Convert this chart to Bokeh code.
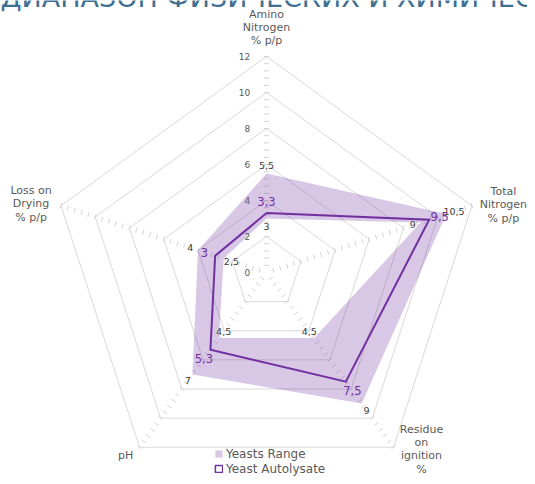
import numpy as np
from bokeh.plotting import figure
from bokeh.models import Range1d, Legend, LegendItem
from bokeh.core.properties import value
from bokeh.embed import file_html
from bokeh.resources import INLINE

# ---------------- data ----------------
title_text = "ДИАПАЗОН ФИЗИЧЕСКИХ И ХИМИЧЕСКИХ ХАРАКТЕРИСТИК"
categories = ["Amino\nNitrogen\n% p/p", "Total\nNitrogen\n% p/p",
              "Residue\non\nignition\n%", "pH", "Loss on\nDrying\n% p/p"]
range_low = [3, 9, 4.5, 4.5, 2.5]
range_high = [5.5, 10.5, 9, 7, 4]
autolysate = [3.3, 9.5, 7.5, 5.3, 3]
tick_values = [0, 2, 4, 6, 8, 10, 12]
series_names = ["Yeasts Range", "Yeast Autolysate"]

# ---------------- styling / geometry ----------------
PX = 18.0                      # pixels per unit
CX, CY = 266, 272              # centre in figure pixels
W, H = 527, 476
FONT = "DejaVu Sans"
PURPLE = "#7030a0"
GRID = "#d9d9d9"
TXT = "#595959"

angles = np.deg2rad([90, 18, -54, -126, 162])
cosa, sina = np.cos(angles), np.sin(angles)

def fmt(v):
    return f"{v:g}".replace(".", ",")

p = figure(width=W, height=H, output_backend="svg", toolbar_location=None,
           x_range=Range1d((0 - CX) / PX, (W - CX) / PX),
           y_range=Range1d((CY - H) / PX, CY / PX),
           min_border=0, min_border_left=0, min_border_right=0,
           min_border_top=0, min_border_bottom=0)
p.axis.visible = False
p.grid.visible = False
p.outline_line_color = None
p.background_fill_color = "white"
p.border_fill_color = "white"

# gridline pentagons
gx, gy = [], []
for r in tick_values[1:]:
    gx.append(list(r * np.append(cosa, cosa[0])))
    gy.append(list(r * np.append(sina, sina[0])))
p.multi_line(gx, gy, line_color=GRID, line_width=1)

# minor ticks along each spoke
half = 2.5 / PX
x0s, y0s, x1s, y1s = [], [], [], []
for c, s in zip(cosa, sina):
    for t in np.arange(0.4, 12.001, 0.4):
        px_, py_ = t * c, t * s
        x0s.append(px_ - s * half); y0s.append(py_ + c * half)
        x1s.append(px_ + s * half); y1s.append(py_ - c * half)
p.segment(x0s, y0s, x1s, y1s, line_color="#d3d3d3", line_width=1)

# range band (polygon with hole)
hi = np.array(range_high); lo = np.array(range_low)
outer_x = list(hi * cosa); outer_y = list(hi * sina)
inner_x = list(lo * cosa); inner_y = list(lo * sina)
band = p.multi_polygons(xs=[[[outer_x, inner_x]]], ys=[[[outer_y, inner_y]]],
                        fill_color=PURPLE, fill_alpha=0.27, line_color=None)

# autolysate line
av = np.array(autolysate)
ax_ = list(np.append(av * cosa, av[0] * cosa[0]))
ay_ = list(np.append(av * sina, av[0] * sina[0]))
p.line(ax_, ay_, line_color=PURPLE, line_width=2, line_join="miter")

# value-axis tick labels (on first spoke)
p.text(x=[-0.9] * len(tick_values), y=tick_values, text=[str(t) for t in tick_values],
       text_font=value(FONT), text_font_size="9px", text_color=TXT,
       text_align="right", text_baseline="middle")

# range labels
d = 0.45
p.text(x=list((hi + d) * cosa), y=list((hi + d) * sina), text=[fmt(v) for v in range_high],
       text_font=value(FONT), text_font_size="9.5px", text_color="#404040",
       text_align="center", text_baseline="middle")
p.text(x=list((lo - d) * cosa), y=list((lo - d) * sina), text=[fmt(v) for v in range_low],
       text_font=value(FONT), text_font_size="9.5px", text_color="#404040",
       text_align="center", text_baseline="middle")

# autolysate labels
da = 0.62
p.text(x=list((av + da) * cosa), y=list((av + da) * sina), text=[fmt(v) for v in autolysate],
       text_font=value(FONT), text_font_size="11.5px", text_color=PURPLE,
       text_align="center", text_baseline="middle")

# category labels (offsets in px from the outer vertex)
offs = [(0, -29), (31.5, -1), (28, 2), (-14, 8), (-30, -2)]
lx = [12 * c + dx / PX for c, (dx, dy) in zip(cosa, offs)]
ly = [12 * s - dy / PX for s, (dx, dy) in zip(sina, offs)]
p.text(x=lx, y=ly, text=categories, text_font=value(FONT), text_font_size="11px",
       text_color=TXT, text_align="center", text_baseline="middle",
       text_line_height=1.03)

# clipped title at top
p.text(x=[(0 - CX) / PX], y=[(CY - 12) / PX], text=[title_text],
       text_font=value(FONT), text_font_size="27px", text_color="#3d6f91",
       text_align="left", text_baseline="bottom")

# legend
dummy = p.quad(left=[100], right=[100.1], top=[100.1], bottom=[100], fill_alpha=0,
               line_color=PURPLE, line_width=1.5)
legend = Legend(items=[LegendItem(label=series_names[0], renderers=[band]),
                       LegendItem(label=series_names[1], renderers=[dummy])],
                location=(214, 0), orientation="vertical",
                glyph_width=9, glyph_height=9, label_height=15, label_standoff=3,
                spacing=0, padding=0, margin=0,
                label_text_font=FONT, label_text_font_size="12px",
                label_text_color=TXT, border_line_alpha=0,
                background_fill_alpha=0)
p.add_layout(legend, "center")

open("out.html", "w").write(file_html(p, INLINE))
